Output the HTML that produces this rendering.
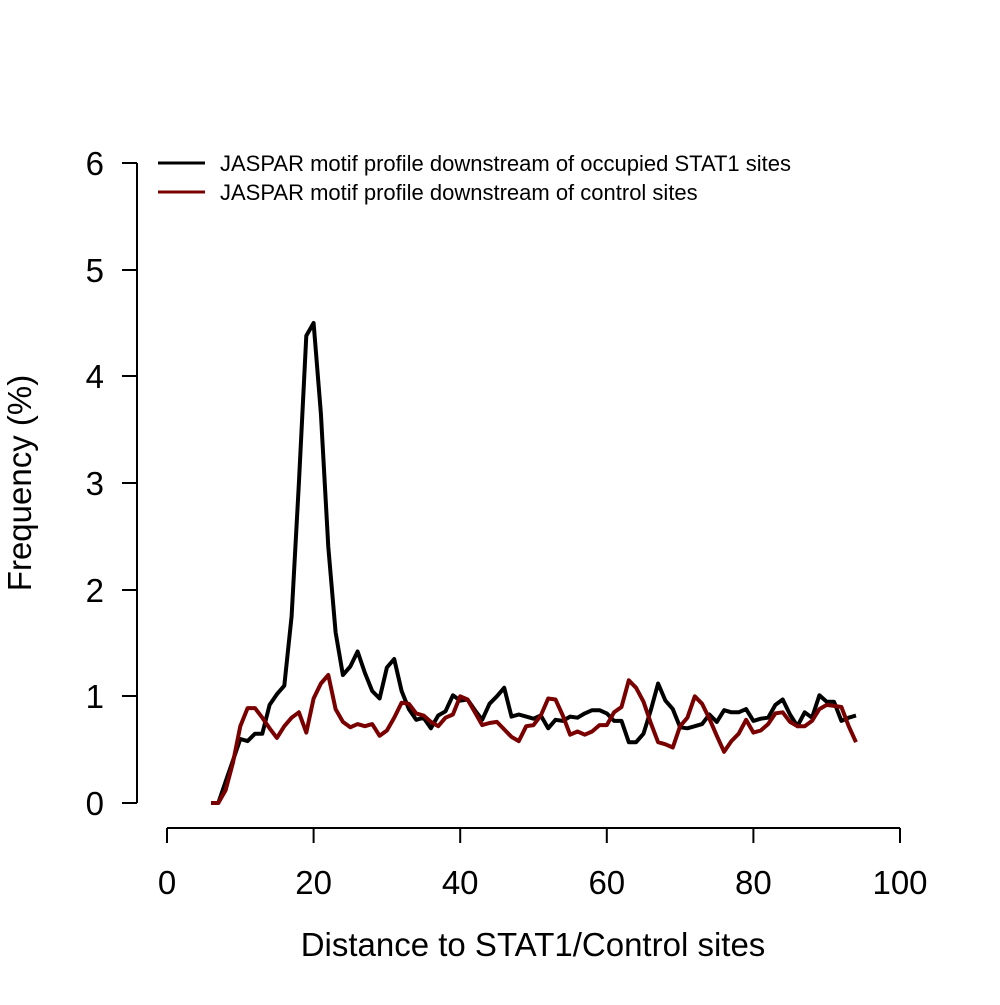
<!DOCTYPE html>
<html><head><meta charset="utf-8"><style>
body{margin:0;background:#fff}
svg text{font-family:"Liberation Sans",Arial,sans-serif}
</style></head><body>
<svg id="s" width="1000" height="1000" viewBox="0 0 1000 1000" xmlns="http://www.w3.org/2000/svg">
<rect width="1000" height="1000" fill="#fff"/>
<g stroke="#000" stroke-width="2" fill="none">
<line x1="137" y1="163" x2="137" y2="803"/>
<line x1="137" y1="163" x2="122" y2="163"/>
<line x1="137" y1="270" x2="122" y2="270"/>
<line x1="137" y1="376" x2="122" y2="376"/>
<line x1="137" y1="483" x2="122" y2="483"/>
<line x1="137" y1="590" x2="122" y2="590"/>
<line x1="137" y1="696" x2="122" y2="696"/>
<line x1="137" y1="803" x2="122" y2="803"/>
<line x1="167" y1="828" x2="900" y2="828"/>
<line x1="167" y1="828" x2="167" y2="843"/>
<line x1="313.6" y1="828" x2="313.6" y2="843"/>
<line x1="460.2" y1="828" x2="460.2" y2="843"/>
<line x1="606.8" y1="828" x2="606.8" y2="843"/>
<line x1="753.4" y1="828" x2="753.4" y2="843"/>
<line x1="900" y1="828" x2="900" y2="843"/>
</g>
<g font-size="33" text-anchor="end" fill="#000">
<text x="104" y="175">6</text><text x="104" y="282">5</text><text x="104" y="388">4</text>
<text x="104" y="495">3</text><text x="104" y="602">2</text><text x="104" y="708">1</text><text x="104" y="815">0</text>
</g>
<g font-size="33" text-anchor="middle" fill="#000">
<text x="167" y="894">0</text><text x="313.6" y="894">20</text><text x="460.2" y="894">40</text>
<text x="606.8" y="894">60</text><text x="753.4" y="894">80</text><text x="900" y="894">100</text>
<text x="533" y="956">Distance to STAT1/Control sites</text>
<text transform="translate(31,483) rotate(-90)">Frequency (%)</text>
</g>
<line x1="158" y1="163" x2="205" y2="163" stroke="#000" stroke-width="3"/>
<line x1="158" y1="192" x2="205" y2="192" stroke="#7a0000" stroke-width="3"/>
<g font-size="22" fill="#000">
<text x="220" y="171">JASPAR motif profile downstream of occupied STAT1 sites</text>
<text x="220" y="200">JASPAR motif profile downstream of control sites</text>
</g>
<polyline id="b" fill="none" stroke="#000" stroke-width="4" stroke-linejoin="round"/>
<polyline id="r" fill="none" stroke="#7a0000" stroke-width="4" stroke-linejoin="round"/>
</svg>
<script>
var B=[0,0,0.2,0.4,0.6,0.58,0.65,0.65,0.92,1.02,1.1,1.75,3.0,4.38,4.5,3.65,2.4,1.6,1.2,1.28,1.42,1.22,1.05,0.98,1.27,1.35,1.05,0.88,0.78,0.8,0.7,0.82,0.86,1.01,0.96,0.97,0.87,0.78,0.93,1.0,1.08,0.81,0.83,0.81,0.79,0.82,0.7,0.78,0.77,0.81,0.8,0.84,0.87,0.87,0.84,0.77,0.77,0.57,0.57,0.65,0.87,1.12,0.96,0.88,0.71,0.7,0.72,0.74,0.83,0.76,0.87,0.85,0.85,0.88,0.77,0.79,0.8,0.92,0.97,0.83,0.72,0.85,0.8,1.01,0.95,0.95,0.77,0.8,0.82];
var R=[0,0,0.12,0.38,0.72,0.89,0.89,0.8,0.7,0.61,0.72,0.8,0.85,0.66,0.98,1.12,1.2,0.88,0.76,0.71,0.74,0.72,0.74,0.63,0.68,0.8,0.94,0.93,0.84,0.82,0.76,0.72,0.8,0.83,1.0,0.97,0.85,0.73,0.75,0.76,0.69,0.62,0.58,0.72,0.73,0.82,0.98,0.97,0.82,0.64,0.67,0.64,0.67,0.73,0.73,0.85,0.9,1.15,1.08,0.95,0.75,0.57,0.55,0.52,0.72,0.8,1.0,0.93,0.79,0.63,0.48,0.58,0.65,0.78,0.66,0.68,0.74,0.84,0.85,0.76,0.72,0.72,0.77,0.88,0.92,0.91,0.9,0.72,0.57];
function p(a){return a.map(function(v,i){return (167+(6+i)*7.33).toFixed(1)+","+(803-v*106.67).toFixed(1)}).join(" ")}
document.getElementById("b").setAttribute("points",p(B));
document.getElementById("r").setAttribute("points",p(R));
</script>
</body></html>
